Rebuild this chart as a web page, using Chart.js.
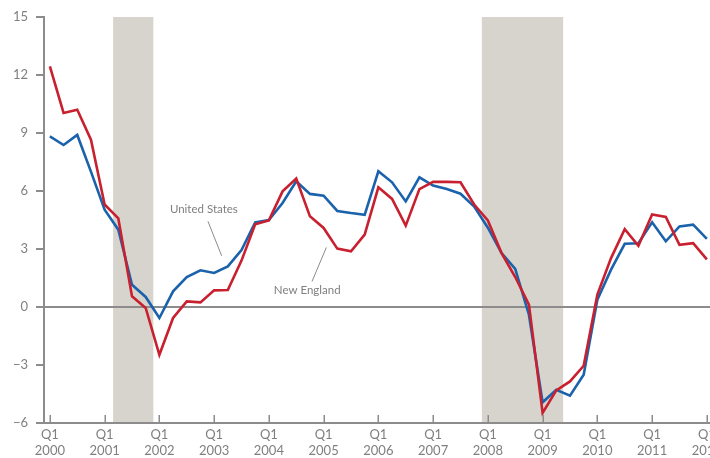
<!DOCTYPE html>
<html>
<head>
<meta charset="utf-8">
<script src="https://cdn.jsdelivr.net/npm/chart.js@4.4.0/dist/chart.umd.min.js"></script>
<style>
html,body{margin:0;padding:0;background:#fff;}
#wrap{width:710px;height:458px;position:relative;}
</style>
</head>
<body>
<div id="wrap"><canvas id="c"></canvas></div>
<script>
// Quarterly series, Q1 2000 .. Q1 2012 (index 0 = Q1 2000)
const quarters = ['2000Q1','2000Q2','2000Q3','2000Q4','2001Q1','2001Q2','2001Q3','2001Q4',
  '2002Q1','2002Q2','2002Q3','2002Q4','2003Q1','2003Q2','2003Q3','2003Q4',
  '2004Q1','2004Q2','2004Q3','2004Q4','2005Q1','2005Q2','2005Q3','2005Q4',
  '2006Q1','2006Q2','2006Q3','2006Q4','2007Q1','2007Q2','2007Q3','2007Q4',
  '2008Q1','2008Q2','2008Q3','2008Q4','2009Q1','2009Q2','2009Q3','2009Q4',
  '2010Q1','2010Q2','2010Q3','2010Q4','2011Q1','2011Q2','2011Q3','2011Q4','2012Q1'];

const newEngland = [12.45,10.04,10.2,8.65,5.3,4.58,0.55,-0.05,
  -2.47,-0.57,0.29,0.24,0.86,0.88,2.4,4.28,
  4.48,5.98,6.64,4.69,4.09,3.02,2.88,3.74,
  6.19,5.59,4.21,6.1,6.47,6.47,6.45,5.3,
  4.48,2.79,1.55,0.12,-5.48,-4.31,-3.85,-3.04,
  0.64,2.53,4.03,3.17,4.79,4.66,3.22,3.3,2.46];

const unitedStates = [8.83,8.38,8.9,7.0,5.03,4.0,1.15,0.52,
  -0.57,0.81,1.55,1.9,1.76,2.1,2.95,4.38,
  4.5,5.38,6.5,5.85,5.76,4.97,4.86,4.77,
  7.02,6.45,5.46,6.71,6.28,6.1,5.86,5.2,
  4.1,2.79,1.97,-0.4,-4.93,-4.28,-4.59,-3.5,
  0.38,1.93,3.27,3.3,4.38,3.4,4.17,4.26,3.52];

// Recessions (in fractional years)
const recessionStart = [2001.155, 2007.89];
const recessionEnd   = [2001.89, 2009.375];

// Tick labels
const xTickLabels = ['Q1 2000','Q1 2001','Q1 2002','Q1 2003','Q1 2004','Q1 2005','Q1 2006',
  'Q1 2007','Q1 2008','Q1 2009','Q1 2010','Q1 2011','Q1 2012'];
const yTickValues = [-6,-3,0,3,6,9,12,15];

// Series labels
const seriesNames = ['United States','New England'];

const yearToIndex = y => (y - 2000) * 4;
const xTickValues = xTickLabels.map(l => yearToIndex(parseInt(l.split(' ')[1],10)));

const FONT = 'Lato, "Open Sans", sans-serif';
const GREY_TEXT = '#7f7f7f';
const GREY_AXIS = '#8c8c8c';

const annotations = [
  {text: seriesNames[0], tx: 11.25, ty: 5.03, lx1: 11.55, ly1: 4.43, lx2: 12.55, ly2: 2.65},
  {text: seriesNames[1], tx: 18.8, ty: 0.86, lx1: 19.15, ly1: 1.32, lx2: 20.2, ly2: 3.08}
];

const shadingPlugin = {
  id: 'shading',
  beforeDraw(chart) {
    const {ctx, chartArea, scales} = chart;
    ctx.save();
    ctx.fillStyle = '#d7d4cd';
    for (let i = 0; i < recessionStart.length; i++) {
      const x1 = scales.x.getPixelForValue(yearToIndex(recessionStart[i]));
      const x2 = scales.x.getPixelForValue(yearToIndex(recessionEnd[i]));
      const yTop = scales.y.getPixelForValue(15);
      const yBot = scales.y.getPixelForValue(-6);
      ctx.fillRect(x1, yTop, x2 - x1, yBot - yTop);
    }
    ctx.restore();
  },
  afterDraw(chart) {
    const {ctx, chartArea, scales} = chart;
    ctx.save();
    // inward x tick marks
    ctx.strokeStyle = GREY_AXIS;
    ctx.lineWidth = 1.5;
    xTickValues.forEach(v => {
      const x = Math.round(scales.x.getPixelForValue(v)) + 0.25;
      ctx.beginPath();
      ctx.moveTo(x, chartArea.bottom - 8);
      ctx.lineTo(x, chartArea.bottom);
      ctx.stroke();
    });
    // annotations
    ctx.fillStyle = GREY_TEXT;
    ctx.font = '11.5px ' + FONT;
    ctx.textAlign = 'center';
    ctx.textBaseline = 'middle';
    ctx.strokeStyle = '#8a8a8a';
    ctx.lineWidth = 1;
    annotations.forEach(a => {
      ctx.fillText(a.text, scales.x.getPixelForValue(a.tx), scales.y.getPixelForValue(a.ty));
      ctx.beginPath();
      ctx.moveTo(scales.x.getPixelForValue(a.lx1), scales.y.getPixelForValue(a.ly1));
      ctx.lineTo(scales.x.getPixelForValue(a.lx2), scales.y.getPixelForValue(a.ly2));
      ctx.stroke();
    });
    ctx.restore();
  }
};

new Chart(document.getElementById('c'), {
  type: 'line',
  data: {
    datasets: [
      {label: seriesNames[1], data: newEngland.map((v, i) => ({x: i, y: v})),
       borderColor: '#c8202f', borderWidth: 2.6, pointRadius: 0, tension: 0, fill: false},
      {label: seriesNames[0], data: unitedStates.map((v, i) => ({x: i, y: v})),
       borderColor: '#1b62ac', borderWidth: 2.6, pointRadius: 0, tension: 0, fill: false}
    ]
  },
  options: {
    responsive: true,
    maintainAspectRatio: false,
    animation: false,
    devicePixelRatio: 1,
    layout: {padding: {top: 17, right: 0, bottom: 0, left: 0}},
    plugins: {legend: {display: false}, tooltip: {enabled: false}},
    scales: {
      x: {
        type: 'linear',
        min: -0.43,
        max: 48.23,
        afterBuildTicks: s => { s.ticks = xTickValues.map(v => ({value: v})); },
        afterFit: s => { s.height = 35; s.paddingLeft = 0; s.paddingRight = 0; },
        ticks: {
          autoSkip: false, maxRotation: 0, minRotation: 0, padding: 4,
          color: GREY_TEXT, font: {family: FONT, size: 13},
          callback: (v, i) => xTickLabels[i].split(' ')
        },
        grid: {display: true, drawOnChartArea: false, drawTicks: false},
        border: {display: true, color: GREY_AXIS, width: 2}
      },
      y: {
        min: -6,
        max: 15,
        afterBuildTicks: s => { s.ticks = yTickValues.map(v => ({value: v})); },
        afterFit: s => { s.width = 44; },
        ticks: {
          padding: 8, color: GREY_TEXT, font: {family: FONT, size: 13},
          callback: v => String(v).replace('-', '\u2212')
        },
        grid: {
          drawOnChartArea: true,
          color: ctx => (ctx.tick && ctx.tick.value === 0) ? GREY_AXIS : 'rgba(0,0,0,0)',
          lineWidth: 2,
          tickColor: GREY_AXIS, tickLength: 8, tickWidth: 2
        },
        border: {display: true, color: GREY_AXIS, width: 2}
      }
    }
  },
  plugins: [shadingPlugin]
});
</script>
</body>
</html>
